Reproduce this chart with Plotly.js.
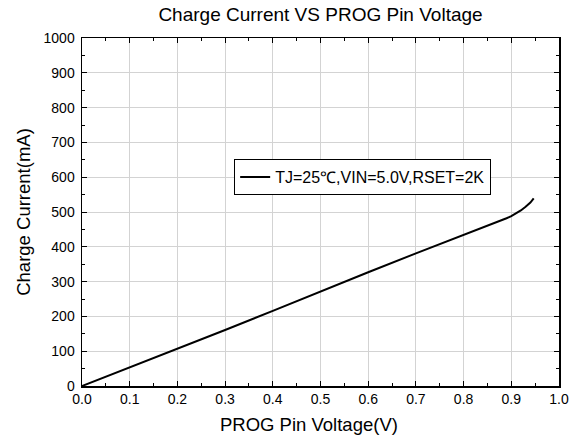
<!DOCTYPE html>
<html>
<head>
<meta charset="utf-8">
<script src="https://cdn.plot.ly/plotly-3.0.1.min.js"></script>
<style>html,body{margin:0;padding:0;background:#fff;}#chart{width:574px;height:438px;}</style>
</head>
<body>
<div id="chart"></div>
<script>
const progVoltage = [0, 0.1, 0.2, 0.3, 0.4, 0.5, 0.6, 0.7, 0.8, 0.85, 0.875, 0.89, 0.9, 0.91, 0.92, 0.93, 0.94, 0.947];
const chargeCurrent = [0, 53, 107, 161, 216, 272, 327, 381, 433, 460, 473.5, 482, 488, 495.5, 504.5, 515, 527, 539];
const seriesName = 'TJ=25\u2103,VIN=5.0V,RSET=2K';
const chartTitle = 'Charge Current VS PROG Pin Voltage';
const xTitle = 'PROG Pin Voltage(V)';
const yTitle = 'Charge Current(mA)';

const font = 'Arial, "Liberation Sans", Helvetica, sans-serif';

const axisCommon = {
  showline: true, linecolor: '#000', linewidth: 1.5, mirror: 'allticks',
  ticks: 'inside', ticklen: 5, tickwidth: 1, tickcolor: '#000',
  showgrid: true, gridcolor: '#d3d3d3', gridwidth: 1,
  zeroline: false, automargin: false,
  tickfont: {family: font, size: 14, color: '#000'},
  minor: {ticks: 'inside', ticklen: 3, tickwidth: 1, tickcolor: '#000', showgrid: false}
};

const data = [{
  x: progVoltage, y: chargeCurrent, type: 'scatter', mode: 'lines',
  name: seriesName, line: {color: '#000', width: 2, shape: 'linear'},
  showlegend: true
}];

const layout = {
  width: 574, height: 438,
  margin: {l: 82, r: 15, t: 38, b: 52},
  paper_bgcolor: '#fff', plot_bgcolor: '#fff',
  title: {text: chartTitle, x: 0.5, xref: 'paper', y: 0.968, yanchor: 'middle',
          font: {family: font, size: 19, color: '#000'}},
  xaxis: Object.assign({}, axisCommon, {
    range: [0, 1.0], dtick: 0.1, tick0: 0, tickformat: '.1f',
    ticklabelstandoff: 0,
    minor: Object.assign({}, axisCommon.minor, {dtick: 0.05})
  }),
  yaxis: Object.assign({}, axisCommon, {
    range: [0, 1000], dtick: 100, tick0: 0,
    ticklabelstandoff: 3,
    minor: Object.assign({}, axisCommon.minor, {dtick: 50}),
    title: {text: yTitle, font: {family: font, size: 18.5, color: '#000'}, standoff: 8}
  }),
  annotations: [{
    text: xTitle, xref: 'paper', yref: 'paper', x: 0.476, y: -0.112,
    xanchor: 'center', yanchor: 'middle', showarrow: false,
    font: {family: font, size: 18.5, color: '#000'}
  }],
  showlegend: true,
  legend: {x: 0.319, y: 0.652, xanchor: 'left', yanchor: 'top',
           bordercolor: '#000', borderwidth: 1, bgcolor: '#fff',
           font: {family: font, size: 16, color: '#000'},
           itemwidth: 30, tracegroupgap: 0}
};

Plotly.newPlot('chart', data, layout, {displayModeBar: false, staticPlot: true});
</script>
</body>
</html>
